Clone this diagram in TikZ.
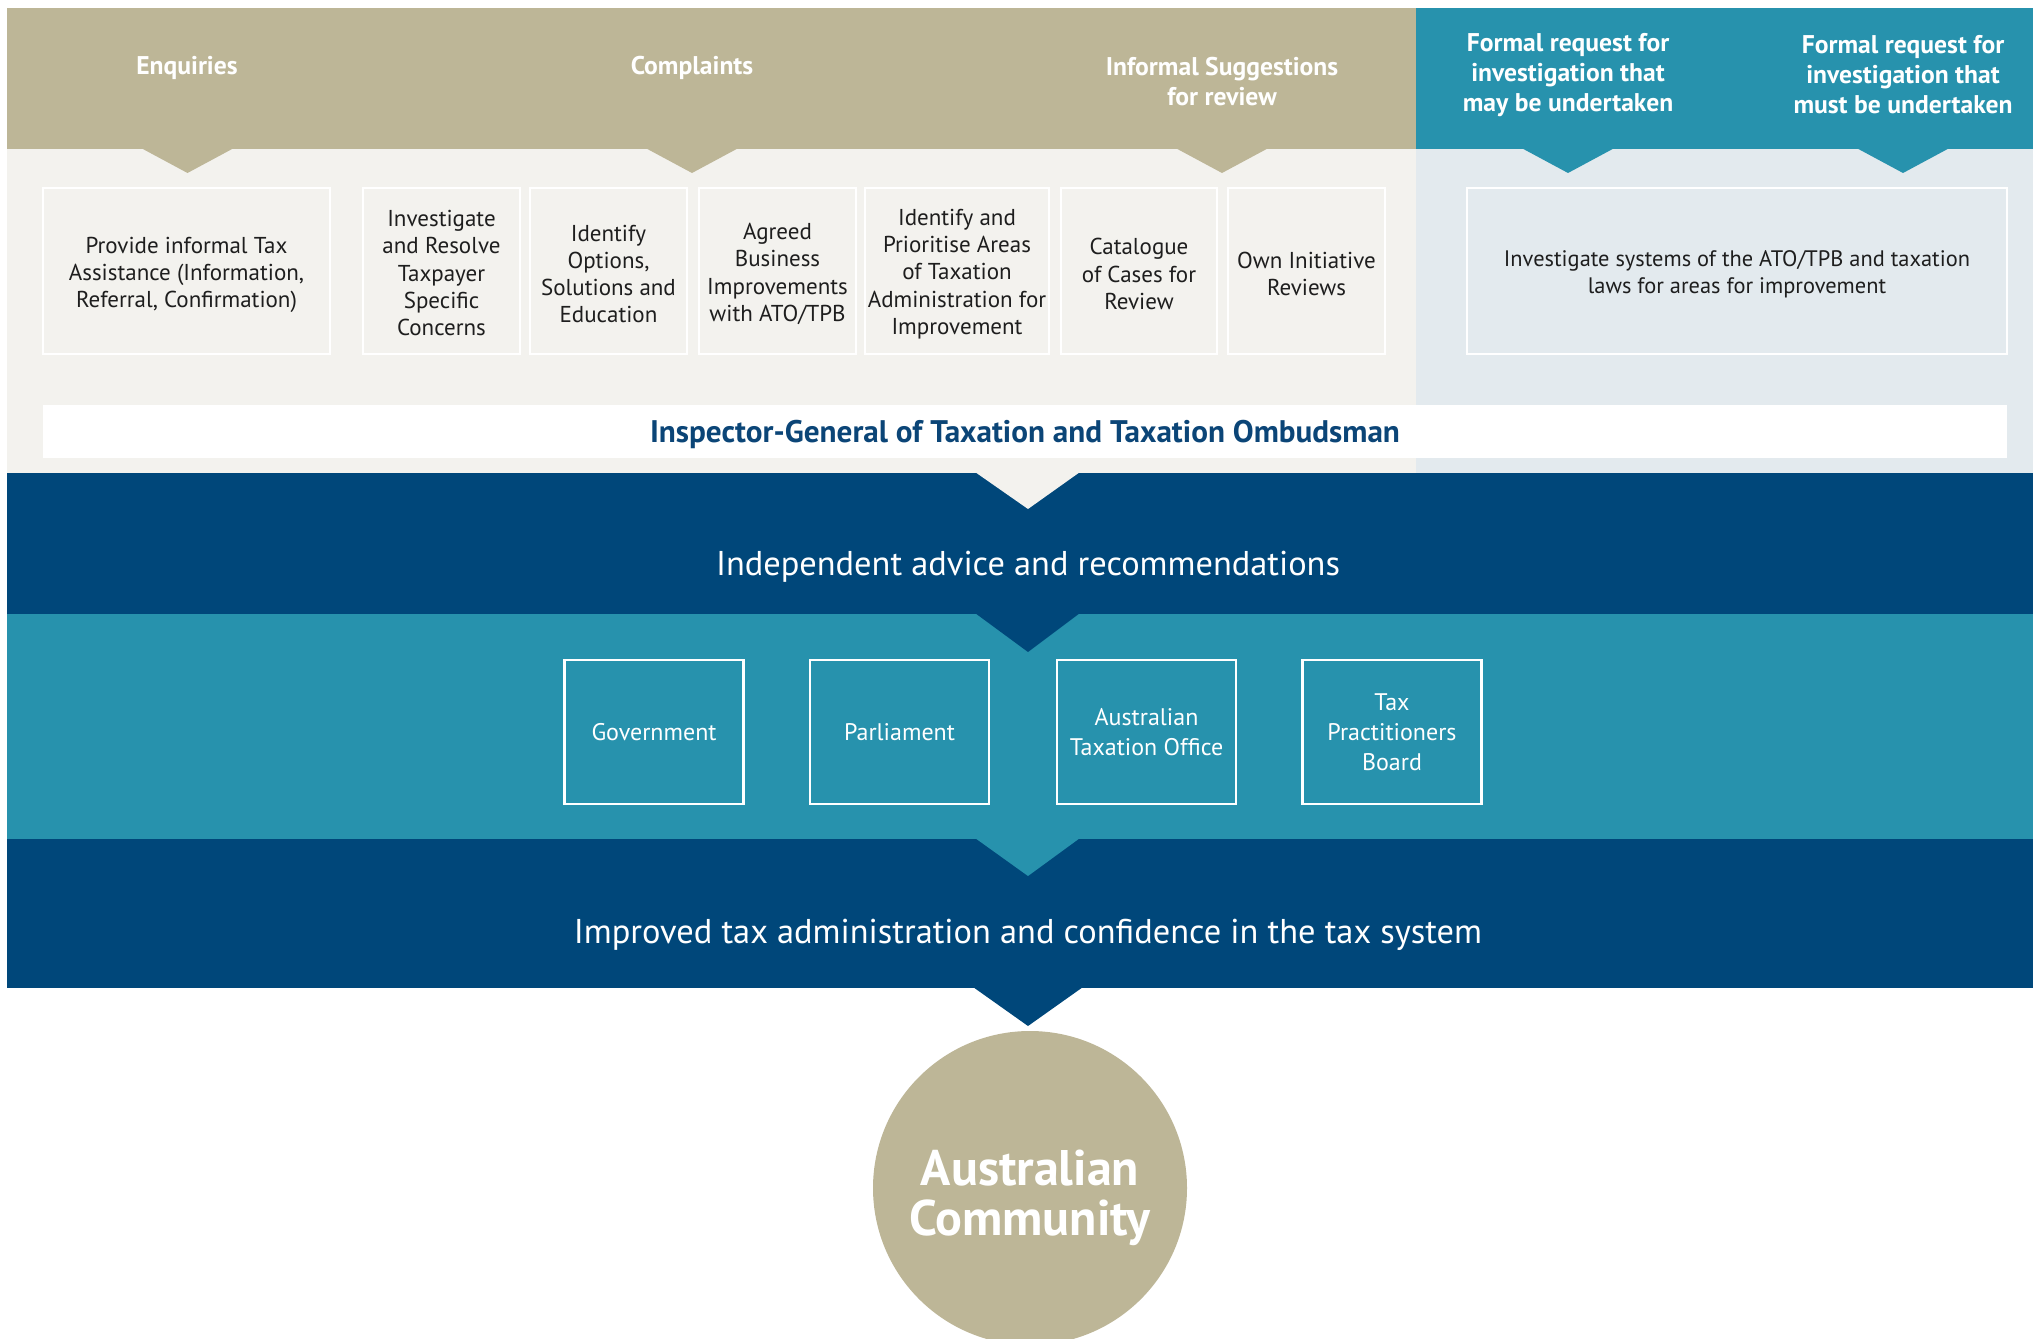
\documentclass[tikz,border=0pt]{standalone}
\usepackage{fontspec}
\setmainfont{PT Sans}
\definecolor{igtTan}{HTML}{BDB697}
\definecolor{igtLight}{HTML}{F3F2EE}
\definecolor{igtPale}{HTML}{E3EAEE}
\definecolor{igtTeal}{HTML}{2792AD}
\definecolor{igtDark}{HTML}{00477A}
\definecolor{igtInk}{HTML}{1E1E1E}
\definecolor{igtNavy}{HTML}{0B4577}
\begin{document}
\begin{tikzpicture}[x=0.5pt,y=-0.5pt,
  cell/.style={draw=white, line width=1.2pt, inner sep=0pt, minimum height=83pt},
  celltext/.style={align=center, inner sep=0pt, text=igtInk, font=\fontsize{11.5}{13.6}\selectfont},
  head/.style={text=white, align=center, inner sep=0pt, font=\fontsize{12.8}{15}\selectfont\bfseries},
  outbox/.style={draw=white, line width=1.3pt, align=center, inner sep=0pt, text=white,
    minimum width=89.5pt, minimum height=72pt, font=\fontsize{12}{15}\selectfont},
  bandtext/.style={text=white, inner sep=0pt, font=\fontsize{17.2}{20}\selectfont}]
\useasboundingbox (0,0) rectangle (2033,1338);
\begin{scope}
\clip (0,0) rectangle (2033,1338);
% top panels
\fill[igtLight] (7,8) rectangle (1416,473);
\fill[igtPale] (1416,8) rectangle (2033,473);
\fill[igtTan] (7,8) rectangle (1416,149);
\fill[igtTeal] (1416,8) rectangle (2033,149);
% headers
\node[head] (enq) at (187,68) {Enquiries};
\node[head] (cmp) at (692,68) {Complaints};
\node[head] (inf) at (1222,82) {Informal Suggestions\\for review};
\node[head] (may) at (1568,75) {Formal request for\\investigation that\\may be undertaken};
\node[head] (must) at (1903,75) {Formal request for\\investigation that\\must be undertaken};
% notches under headers
\foreach \h/\c/\col in {enq/187.5/igtTan, cmp/692/igtTan, inf/1222/igtTan, may/1568/igtTeal, must/1903/igtTeal}{
  \coordinate (\h-tip) at (\c,173);
  \fill[\col] (\c-46.5,148) -- (\c+46.5,148) -- (\h-tip) -- cycle;
}
% boxes
\node[cell, minimum width=143.5pt] (b1) at (186.5,271) {};
\node[cell, minimum width=78.5pt] (b2) at (441.5,271) {};
\node[cell, minimum width=78.5pt] (b3) at (608.5,271) {};
\node[cell, minimum width=78.5pt] (b4) at (777.5,271) {};
\node[cell, minimum width=92pt] (b5) at (957,271) {};
\node[cell, minimum width=78pt] (b6) at (1139,271) {};
\node[cell, minimum width=78.5pt] (b7) at (1306.5,271) {};
\node[cell, minimum width=270pt] (b8) at (1737,271) {};
\node[celltext] (t1) at ([yshift=-2pt]b1.center) {Provide informal Tax\\Assistance (Information,\\Referral, Confirmation)};
\node[celltext] (t2) at ([yshift=-1pt]b2.center) {Investigate\\and Resolve\\Taxpayer\\Specific\\Concerns};
\node[celltext] (t3) at ([yshift=-1.5pt]b3.center) {Identify\\Options,\\Solutions and\\Education};
\node[celltext] (t4) at ([yshift=-1.5pt]b4.center) {Agreed\\Business\\Improvements\\with ATO/TPB};
\node[celltext] (t5) at ([yshift=-1.5pt]b5.center) {Identify and\\Prioritise Areas\\of Taxation\\Administration for\\Improvement};
\node[celltext] (t6) at ([yshift=-1.5pt]b6.center) {Catalogue\\of Cases for\\Review};
\node[celltext] (t7) at ([yshift=-1.5pt]b7.center) {Own Initiative\\Reviews};
\node[celltext, font=\fontsize{11.2}{13.6}\selectfont] (t8) at ([yshift=-1.5pt]b8.center) {Investigate systems of the ATO/TPB and taxation\\laws for areas for improvement};
% banner
\node[fill=white, minimum width=982pt, minimum height=26.5pt, inner sep=0pt] (igt) at (1025,431.5) {};
\node[inner sep=0pt, text=igtNavy, font=\fontsize{15.6}{17}\selectfont\bfseries] (igtT) at ([yshift=-1.5pt]igt.center) {Inspector-General of Taxation and Taxation Ombudsman};
% band 1
\fill[igtDark] (7,473) rectangle (2033,614);
\coordinate (n1) at (1028,509);
\fill[igtLight] (975,472) -- (1080,472) -- (n1) -- cycle;
\node[bandtext] (adv) at (1028,567) {Independent advice and recommendations};
% band 2
\fill[igtTeal] (7,614) rectangle (2033,839);
\coordinate (n2) at (1028,652);
\fill[igtDark] (975,613) -- (1080,613) -- (n2) -- cycle;
\node[outbox] (gov) at (654,732) {Government};
\node[outbox] (parl) at (899.5,732) {Parliament};
\node[outbox] (ato) at (1146.5,732) {Australian\\Taxation Office};
\node[outbox] (tpb) at (1392,732) {Tax\\Practitioners\\Board};
% band 3
\fill[igtDark] (7,839) rectangle (2033,988);
\coordinate (n3) at (1028,876);
\fill[igtTeal] (975,838) -- (1080,838) -- (n3) -- cycle;
\node[bandtext] (imp) at (1028,935) {Improved tax administration and confidence in the tax system};
\coordinate (n4) at (1028,1026);
\fill[igtDark] (973,987) -- (1083,987) -- (n4) -- cycle;
% community
\node[circle, fill=igtTan, minimum size=157pt, inner sep=0pt] (com) at (1030,1188) {};
\node[text=white, align=center, inner sep=0pt, font=\fontsize{25}{25}\selectfont\bfseries] (comT) at ([yshift=-5pt]com.center) {Australian\\Community};
\end{scope}
\end{tikzpicture}
\end{document}
